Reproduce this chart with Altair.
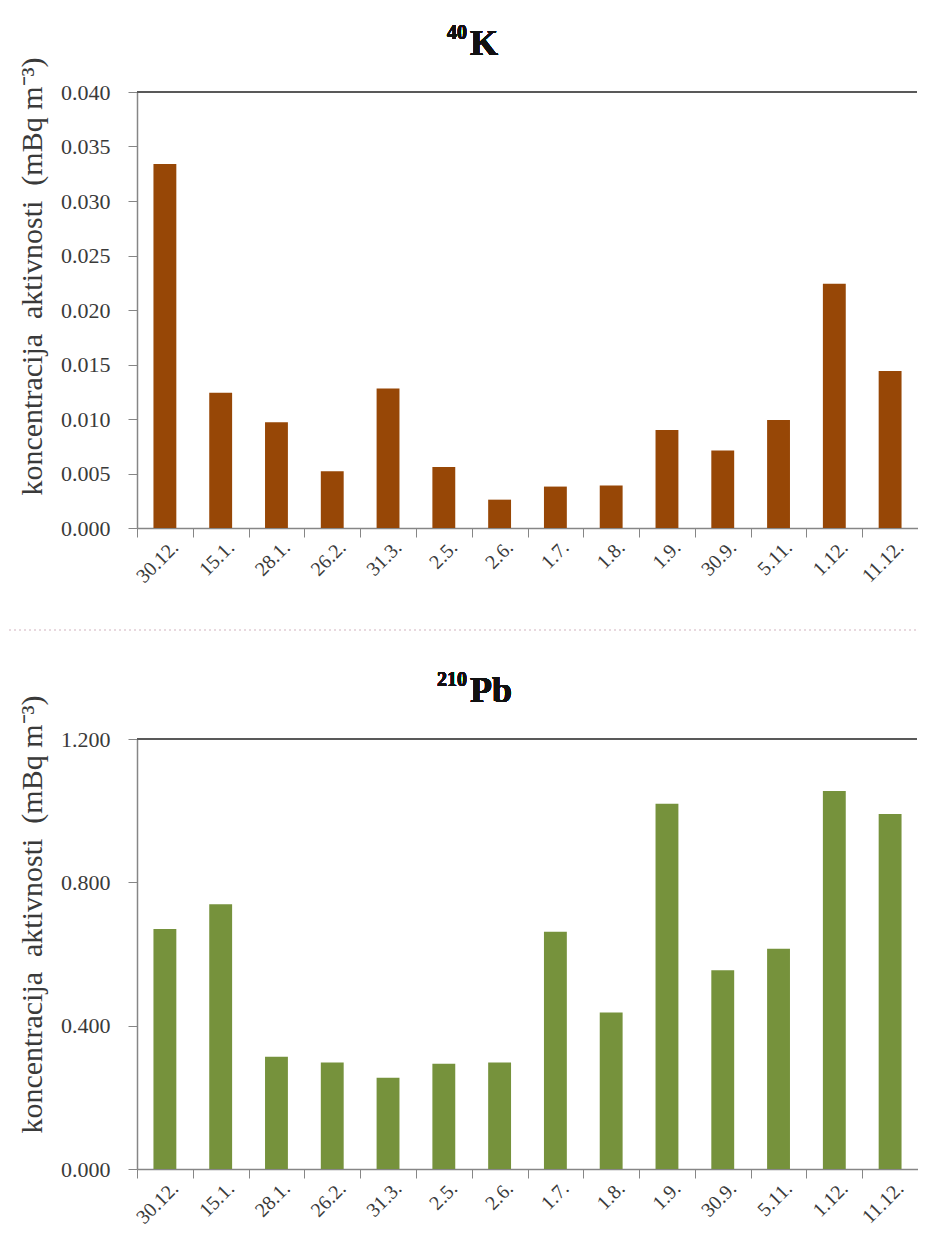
import altair as alt
import pandas as pd

dates = ["30.12.", "15.1.", "28.1.", "26.2.", "31.3.", "2.5.", "2.6.",
         "1.7.", "1.8.", "1.9.", "30.9.", "5.11.", "1.12.", "11.12."]
k40 = [0.0334, 0.0124, 0.0097, 0.0052, 0.0128, 0.0056, 0.0026,
       0.0038, 0.0039, 0.0090, 0.0071, 0.0099, 0.0224, 0.0144]
pb210 = [0.670, 0.739, 0.313, 0.297, 0.255, 0.294, 0.297,
         0.662, 0.437, 1.019, 0.555, 0.615, 1.055, 0.991]
k_ticks = [0.0, 0.005, 0.010, 0.015, 0.020, 0.025, 0.030, 0.035, 0.040]
pb_ticks = [0.0, 0.4, 0.8, 1.2]

W = 781
FONT = "Liberation Serif"
YTITLE = "koncentracija\u00a0 aktivnosti\u00a0 (mBq m\u207b\u00b3)"

df_k = pd.DataFrame({"date": dates, "value": k40})
df_pb = pd.DataFrame({"date": dates, "value": pb210})


def panel(df, color, ticks, sup, main, title_y, H, sep=False):
    step = W / len(dates)
    x = alt.X("date:N", sort=dates, title=None,
              scale=alt.Scale(paddingInner=0.59, paddingOuter=0.295),
              axis=alt.Axis(labelAngle=-45, labelAlign="right", labelBaseline="middle",
                            labelFont=FONT, labelFontSize=20, labelColor="#3a3a3a",
                            labelPadding=7, tickOffset=-step / 2,
                            labelOffset=step / 2 + 10,
                            tickSize=9, tickColor="#868686",
                            domainColor="#868686", domainWidth=1.5, labelOverlap=False))
    y = alt.Y("value:Q", title=YTITLE,
              scale=alt.Scale(domain=[ticks[0], ticks[-1]], nice=False, zero=True),
              axis=alt.Axis(values=ticks, format=".3f", grid=False,
                            labelFont=FONT, labelFontSize=22, labelColor="#3a3a3a",
                            labelPadding=18, tickSize=9, tickColor="#868686",
                            domainColor="#868686", domainWidth=1.5,
                            titleFont=FONT, titleFontSize=30, titleFontWeight="normal",
                            titleColor="#3a3a3a", titleX=-105, titleY=title_y,
                            titleBaseline="middle", titleAngle=-90))
    bars = alt.Chart(df).mark_bar(color=color).encode(x=x, y=y)
    top = alt.Chart(df).mark_rule(color="#595959", strokeWidth=2).encode(
        y=alt.value(0), x=alt.value(0), x2=alt.value(W - 1))
    t_sup = alt.Chart(df).mark_text(text=sup, font=FONT, fontSize=20, fontWeight="bold",
                                    align="right", baseline="alphabetic",
                                    color="#111111").encode(
        x=alt.value(330), y=alt.value(-53))
    t_main = alt.Chart(df).mark_text(text=main, font=FONT, fontSize=36, fontWeight="bold",
                                     align="left", baseline="alphabetic",
                                     color="#111111").encode(
        x=alt.value(333), y=alt.value(-37))
    layers = [bars, top, t_sup, t_main]
    if sep:
        sepline = alt.Chart(df).mark_rule(color="#e8d8de", strokeWidth=2,
                                          strokeDash=[2, 3]).encode(
            y=alt.value(H + 102), x=alt.value(-128), x2=alt.value(W - 1))
        layers.append(sepline)
    return alt.layer(*layers).properties(width=W, height=H)


c1 = panel(df_k, "#974706", k_ticks, "40", "K", 184, 436, sep=True)
c2 = panel(df_pb, "#76923c", pb_ticks, "210", "Pb", 175, 430)

chart = alt.vconcat(c1, c2, spacing=39).properties(
    padding={"left": 0, "top": 15, "right": 0, "bottom": 0}
).configure_view(stroke=None)

chart.save("out.html", embed_options={"renderer": "svg", "actions": False})
